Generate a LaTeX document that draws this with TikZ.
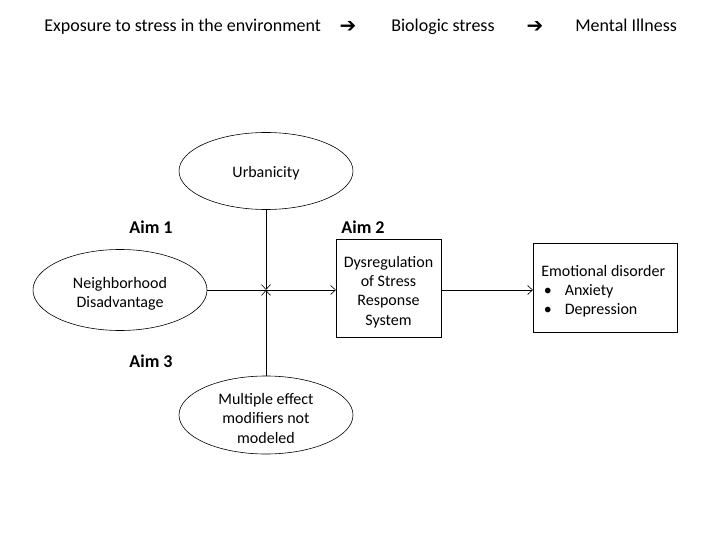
\documentclass[tikz,border=0pt]{standalone}
\usepackage{fontspec}
\setmainfont{Carlito}
\newfontfamily\symfont{DejaVu Sans}
\usetikzlibrary{shapes.geometric,arrows.meta}
\begin{document}
\begin{tikzpicture}[x=1pt,y=-1pt,
  oval/.style={draw,ellipse,minimum width=174pt,minimum height=77pt,inner sep=0pt},
  ovaltext/.style={align=center,inner sep=0pt,font=\fontsize{16}{19.5}\selectfont},
  rbox/.style={draw,rectangle,inner sep=0pt},
  boxtext/.style={align=center,inner sep=0pt,font=\fontsize{16}{19.3}\selectfont},
  aim/.style={font=\fontsize{18}{21}\selectfont\bfseries},
  toptext/.style={font=\fontsize{18}{21}\selectfont,inner sep=0pt},
  toparrow/.style={font=\fontsize{20}{21}\selectfont,inner sep=0pt},
  arr/.style={-{Straight Barb[length=5pt,width=9pt]},line width=0.6pt},
  line width=0.6pt]
\useasboundingbox (0,0) rectangle (720,540);
% top row
\node[toptext,anchor=base west] (t1) at (44,32) {Exposure to stress in the environment};
\node[toparrow,anchor=base] (a1) at (348,33) {\symfont\bfseries ➔};
\node[toptext,anchor=base west] (t2) at (391,32) {Biologic stress};
\node[toparrow,anchor=base] (a2) at (535,33) {\symfont\bfseries ➔};
\node[toptext,anchor=base west] (t3) at (575,32) {Mental Illness};
% nodes
\node[oval] (urb) at (266,171) {};
\node[ovaltext] (urbt) at (266,173.5) {Urbanicity};
\node[oval,minimum height=81pt] (nd) at (120,290) {};
\node[ovaltext] (ndt) at (120,294) {Neighborhood\\Disadvantage};
\node[oval,minimum height=78pt] (mem) at (266,415) {};
\node[ovaltext] (memt) at (266,418) {Multiple effect\\modifiers not\\modeled};
\node[rbox,minimum width=105pt,minimum height=98pt,anchor=north west] (dys) at (336,239) {};
\node[boxtext] (dyst) at (388.5,292) {Dysregulation\\of Stress\\Response\\System};
\node[rbox,minimum width=144pt,minimum height=89pt,anchor=north west] (emo) at (533,243) {};
\node[anchor=north west,inner sep=0pt,align=left,font=\fontsize{16}{19}\selectfont] (emot) at (541,265)
  {Emotional disorder\\\hspace*{2.5pt}\textbullet\hspace{13pt}Anxiety\\\hspace*{2.5pt}\textbullet\hspace{13pt}Depression};
\node[aim] (aim1) at (151,227) {Aim 1};
\node[aim] (aim2) at (363,227) {Aim 2};
\node[aim] (aim3) at (151,361) {Aim 3};
% connectors
\coordinate (x) at (266,290);
\draw[arr] (nd.east) -- (dys.west |- x);
\draw[arr] (dys.east |- x) -- (emo.west |- x);
\draw[arr] (urb.south) -- (x);
\draw[arr] (mem.north) -- (x);
\end{tikzpicture}
\end{document}
